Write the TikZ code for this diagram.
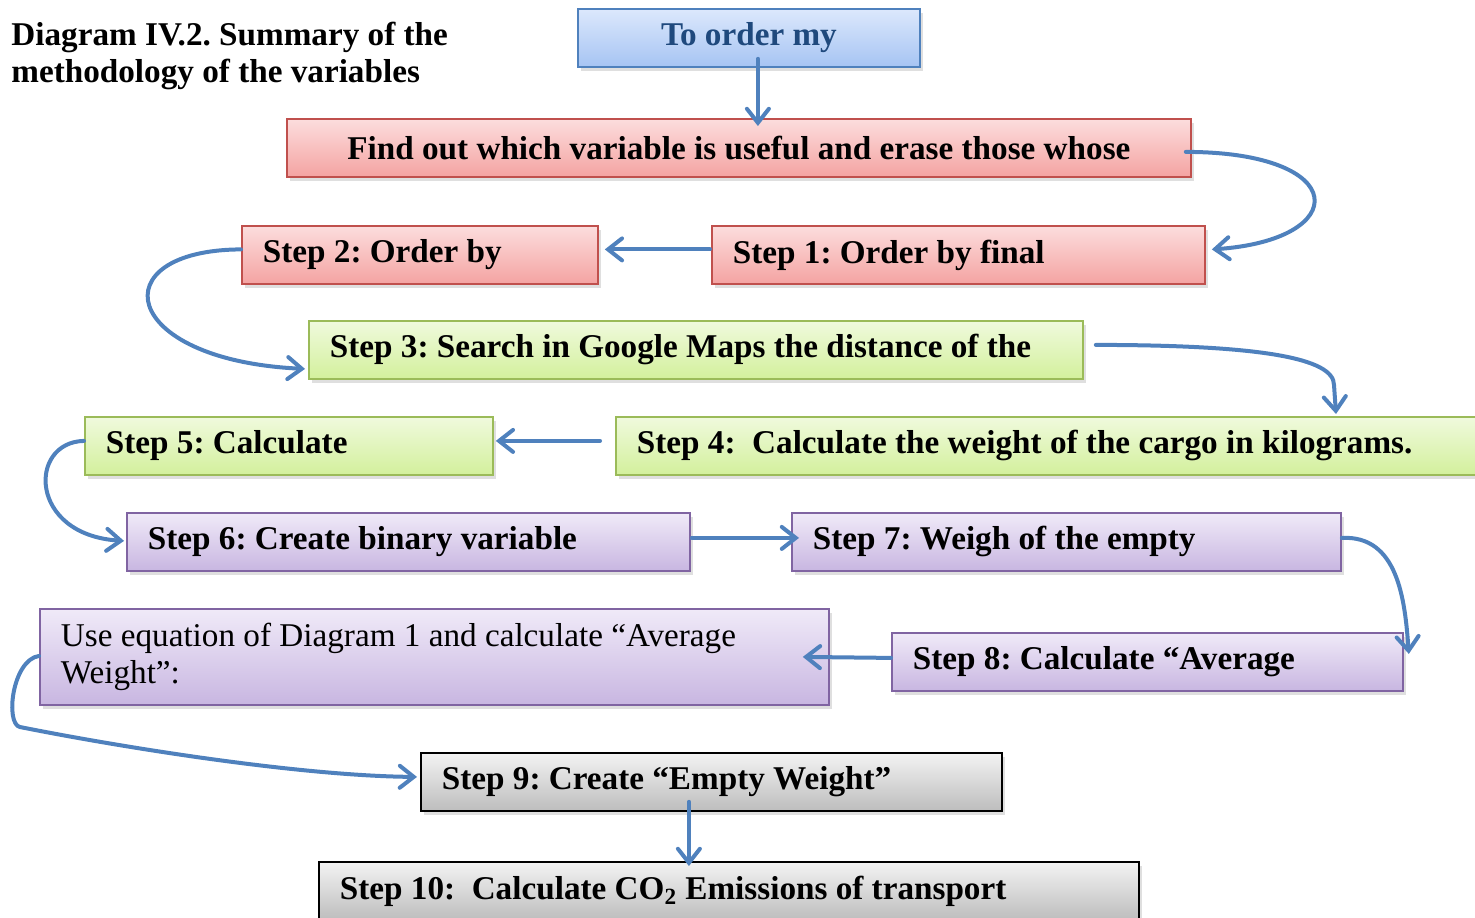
\documentclass[tikz,border=0pt]{standalone}
\usepackage{fontspec}
\setmainfont{Liberation Serif}
\usetikzlibrary{arrows.meta,shadows,calc}
\frenchspacing

\definecolor{flowblue}{HTML}{4F81BD}
\definecolor{titleblue}{HTML}{1F497D}

\begin{document}
\begin{tikzpicture}[
            x = 0.5pt, y = -0.5pt, % one unit per pixel, y runs down
            > = {Straight Barb[length=7pt,width=11pt,line cap=round]}, % open arrow head
            font = \fontsize{16.6}{18.5}\selectfont\bfseries,
            flow/.style = {->, draw=flowblue, line width=2pt, line cap=round},
            box/.style = {draw, line width=0.9pt, anchor=north west,
                minimum height=29pt, inner xsep=10.5pt, align=flush left,
                drop shadow={opacity=0.25, shadow xshift=1.5pt, shadow yshift=-2pt}},
            bluebox/.style = {box, draw=flowblue, top color={rgb,255:red,220;green,232;blue,252},
                bottom color={rgb,255:red,166;green,196;blue,243}, text=titleblue, align=center},
            redbox/.style = {box, draw={rgb,255:red,192;green,80;blue,77},
                top color={rgb,255:red,252;green,221;blue,221}, bottom color={rgb,255:red,244;green,163;blue,162}},
            greenbox/.style = {box, draw={rgb,255:red,155;green,187;blue,89},
                top color={rgb,255:red,240;green,250;blue,221}, bottom color={rgb,255:red,211;green,240;blue,156}},
            purplebox/.style = {box, draw={rgb,255:red,128;green,100;blue,162},
                top color={rgb,255:red,240;green,234;blue,248}, bottom color={rgb,255:red,200;green,182;blue,225}},
            graybox/.style = {box, draw=black, top color={rgb,255:red,243;green,243;blue,243},
                bottom color={rgb,255:red,189;green,189;blue,189}}
        ]

	\path[use as bounding box, clip] (0,0) rectangle (1475,917);

	\node[anchor=north west, inner sep=0pt, align=left] (title) at (11,22)
		{Diagram IV.2. Summary of the\\ methodology of the variables};

	\node[bluebox, minimum width=171pt] (order) at (577,8) {To order my};
	\node[redbox, minimum width=452pt, align=center] (find) at (286,118)
		{Find out which variable is useful and erase those whose};

	\node[redbox, text width=225.5pt] (s1) at (711,225) {Step 1: Order by final};
	\node[redbox, text width=157pt] (s2) at (241,225) {Step 2: Order by};
	\node[greenbox, text width=366pt] (s3) at (308,320) {Step 3: Search in Google Maps the distance of the};
	\node[greenbox, text width=431.5pt] (s4) at (615,416)
		{Step 4:\ \ Calculate the weight of the cargo in kilograms.};
	\node[greenbox, text width=183pt] (s5) at (84,416) {Step 5: Calculate};
	\node[purplebox, text width=260.5pt] (s6) at (126,512) {Step 6: Create binary variable};
	\node[purplebox, text width=253.5pt] (s7) at (791,512) {Step 7: Weigh of the empty};
	\node[purplebox, text width=234.5pt] (s8) at (891,632) {Step 8: Calculate “Average};
	\node[purplebox, text width=373.5pt, minimum height=48pt,
		font=\fontsize{16.6}{18.5}\selectfont\mdseries] (eq) at (39,608)
		{Use equation of Diagram 1 and calculate “Average\\ Weight”:};
	\node[graybox, text width=269.5pt] (s9) at (420,752) {Step 9: Create “Empty Weight”};
	\node[graybox, text width=389pt] (s10) at (318,861)
		{Step 10:\ \ Calculate CO\textsubscript{2} Emissions of transport};

	% connectors
	\draw[flow] ($(order.south)+(9,-9)$) -- ($(find.north)+(19,8)$);
	\draw[flow] ($(find.east)+(-6,4)$) .. controls (1352,152) and (1352,240) .. ($(s1.east)+(6,-5.5)$);
	\draw[flow] ($(s1.west)+(-1,-5.5)$) -- ($(s2.east)+(6,-5.5)$);
	\draw[flow] ($(s2.west)+(0,-5.5)$) .. controls (100,250) and (118,360) .. ($(s3.west)+(-3,19)$);
	\draw[flow] ($(s3.east)+(12,-5)$) .. controls (1260,345) and (1334,358) .. (1334,385)
		-- ($(s4.north west)+(721,-2)$);
	\draw[flow] ($(s4.west)+(-15,-5)$) -- ($(s5.east)+(2,-5)$);
	\draw[flow] ($(s5.west)+(0,-5)$) .. controls (28,442) and (28,535) .. ($(s6.west)+(-2,-1)$);
	\draw[flow] ($(s6.east)+(1,-4)$) -- ($(s7.west)+(8,-4)$);
	\draw[flow] ($(s7.east)+(0,-4)$) .. controls (1398,535) and (1405,600) .. ($(s8.east)+(5,-8)$);
	\draw[flow] ($(s8.west)+(0,-4)$) -- ($(eq.east)+(-27,0)$);
	\draw[flow] ($(eq.west)+(0,-1)$) .. controls (12,660) and (5,724) .. (20,727)
		.. controls (120,747) and (300,776) .. ($(s9.west)+(-3,-5)$);
	\draw[flow] ($(s9.south)+(-22.5,-10)$) -- ($(s10.north)+(-40,5)$);

\end{tikzpicture}
\end{document}
